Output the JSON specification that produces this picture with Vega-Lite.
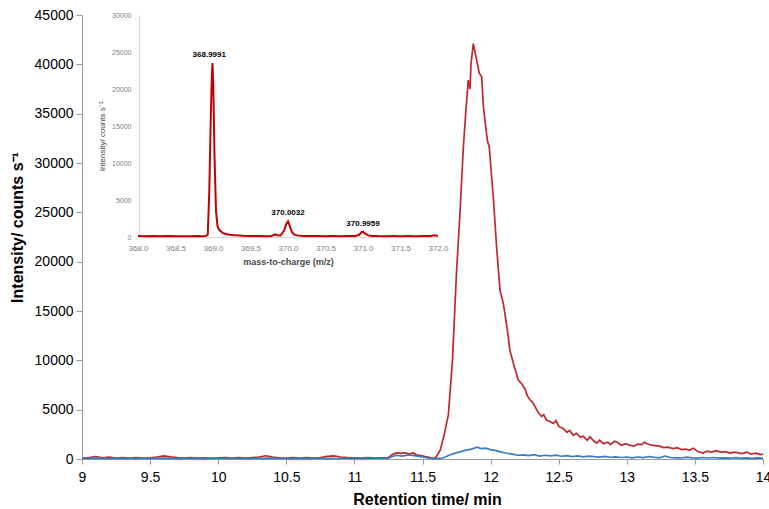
{
  "$schema": "https://vega.github.io/schema/vega-lite/v6.json",
  "width": 681,
  "height": 444,
  "autosize": {"type": "none"},
  "padding": {"left": 82, "top": 15, "right": 6, "bottom": 50},
  "background": "white",
  "config": {"view": {"stroke": null}, "font": "Liberation Sans"},
  "datasets": {
    "main": [
      {"t": 9.00, "I": 100, "series": "red"}, {"t": 9.05, "I": 150, "series": "red"}, {"t": 9.10, "I": 250, "series": "red"}, {"t": 9.15, "I": 120, "series": "red"}, {"t": 9.20, "I": 180, "series": "red"}, {"t": 9.25, "I": 100, "series": "red"}, {"t": 9.30, "I": 150, "series": "red"}, {"t": 9.35, "I": 90, "series": "red"}, {"t": 9.40, "I": 140, "series": "red"}, {"t": 9.45, "I": 100, "series": "red"}, {"t": 9.50, "I": 120, "series": "red"}, {"t": 9.55, "I": 200, "series": "red"}, {"t": 9.60, "I": 320, "series": "red"}, {"t": 9.65, "I": 220, "series": "red"}, {"t": 9.70, "I": 150, "series": "red"}, {"t": 9.75, "I": 100, "series": "red"}, {"t": 9.80, "I": 130, "series": "red"}, {"t": 9.85, "I": 90, "series": "red"}, {"t": 9.90, "I": 120, "series": "red"}, {"t": 9.95, "I": 100, "series": "red"},
      {"t": 10.00, "I": 110, "series": "red"}, {"t": 10.05, "I": 140, "series": "red"}, {"t": 10.10, "I": 90, "series": "red"}, {"t": 10.15, "I": 130, "series": "red"}, {"t": 10.20, "I": 100, "series": "red"}, {"t": 10.25, "I": 150, "series": "red"}, {"t": 10.30, "I": 200, "series": "red"}, {"t": 10.35, "I": 330, "series": "red"}, {"t": 10.40, "I": 200, "series": "red"}, {"t": 10.45, "I": 120, "series": "red"}, {"t": 10.50, "I": 100, "series": "red"}, {"t": 10.55, "I": 140, "series": "red"}, {"t": 10.60, "I": 90, "series": "red"}, {"t": 10.65, "I": 130, "series": "red"}, {"t": 10.70, "I": 100, "series": "red"}, {"t": 10.75, "I": 150, "series": "red"}, {"t": 10.80, "I": 260, "series": "red"}, {"t": 10.85, "I": 320, "series": "red"}, {"t": 10.90, "I": 200, "series": "red"}, {"t": 10.95, "I": 150, "series": "red"},
      {"t": 11.00, "I": 120, "series": "red"}, {"t": 11.05, "I": 100, "series": "red"}, {"t": 11.10, "I": 130, "series": "red"}, {"t": 11.15, "I": 90, "series": "red"}, {"t": 11.20, "I": 120, "series": "red"}, {"t": 11.25, "I": 150, "series": "red"}, {"t": 11.28, "I": 450, "series": "red"}, {"t": 11.31, "I": 620, "series": "red"}, {"t": 11.34, "I": 580, "series": "red"}, {"t": 11.37, "I": 640, "series": "red"}, {"t": 11.40, "I": 500, "series": "red"}, {"t": 11.43, "I": 620, "series": "red"}, {"t": 11.46, "I": 400, "series": "red"}, {"t": 11.49, "I": 350, "series": "red"}, {"t": 11.52, "I": 250, "series": "red"}, {"t": 11.55, "I": 170, "series": "red"}, {"t": 11.58, "I": 30, "series": "red"}, {"t": 11.60, "I": 200, "series": "red"}, {"t": 11.63, "I": 900, "series": "red"}, {"t": 11.66, "I": 2500, "series": "red"}, {"t": 11.69, "I": 4500, "series": "red"}, {"t": 11.72, "I": 10000, "series": "red"}, {"t": 11.75, "I": 19000, "series": "red"}, {"t": 11.775, "I": 24900, "series": "red"}, {"t": 11.80, "I": 31600, "series": "red"}, {"t": 11.817, "I": 35000, "series": "red"}, {"t": 11.836, "I": 38400, "series": "red"}, {"t": 11.849, "I": 37500, "series": "red"}, {"t": 11.856, "I": 40000, "series": "red"}, {"t": 11.873, "I": 42100, "series": "red"}, {"t": 11.898, "I": 40400, "series": "red"}, {"t": 11.917, "I": 39100, "series": "red"}, {"t": 11.935, "I": 38700, "series": "red"}, {"t": 11.947, "I": 35700, "series": "red"}, {"t": 11.976, "I": 32300, "series": "red"}, {"t": 11.99, "I": 31600, "series": "red"},
      {"t": 12.02, "I": 26500, "series": "red"}, {"t": 12.044, "I": 21500, "series": "red"}, {"t": 12.069, "I": 17100, "series": "red"}, {"t": 12.093, "I": 15800, "series": "red"}, {"t": 12.123, "I": 13100, "series": "red"}, {"t": 12.142, "I": 11000, "series": "red"}, {"t": 12.167, "I": 9700, "series": "red"}, {"t": 12.203, "I": 8000, "series": "red"}, {"t": 12.23, "I": 7600, "series": "red"}, {"t": 12.252, "I": 7100, "series": "red"}, {"t": 12.27, "I": 6400, "series": "red"}, {"t": 12.289, "I": 6000, "series": "red"}, {"t": 12.31, "I": 5700, "series": "red"}, {"t": 12.326, "I": 5300, "series": "red"}, {"t": 12.35, "I": 4700, "series": "red"}, {"t": 12.375, "I": 4300, "series": "red"}, {"t": 12.39, "I": 4500, "series": "red"}, {"t": 12.41, "I": 3950, "series": "red"}, {"t": 12.435, "I": 3800, "series": "red"}, {"t": 12.46, "I": 3600, "series": "red"}, {"t": 12.48, "I": 3900, "series": "red"}, {"t": 12.50, "I": 3300, "series": "red"}, {"t": 12.533, "I": 3100, "series": "red"}, {"t": 12.56, "I": 2700, "series": "red"}, {"t": 12.58, "I": 2900, "series": "red"}, {"t": 12.607, "I": 2400, "series": "red"}, {"t": 12.63, "I": 2600, "series": "red"}, {"t": 12.66, "I": 2200, "series": "red"}, {"t": 12.68, "I": 2300, "series": "red"}, {"t": 12.71, "I": 1900, "series": "red"}, {"t": 12.73, "I": 2250, "series": "red"}, {"t": 12.76, "I": 1800, "series": "red"}, {"t": 12.78, "I": 1600, "series": "red"}, {"t": 12.80, "I": 1900, "series": "red"}, {"t": 12.83, "I": 1550, "series": "red"}, {"t": 12.86, "I": 1700, "series": "red"}, {"t": 12.88, "I": 1450, "series": "red"}, {"t": 12.91, "I": 1800, "series": "red"}, {"t": 12.93, "I": 1700, "series": "red"}, {"t": 12.96, "I": 1400, "series": "red"}, {"t": 12.99, "I": 1550, "series": "red"},
      {"t": 13.02, "I": 1400, "series": "red"}, {"t": 13.05, "I": 1300, "series": "red"}, {"t": 13.08, "I": 1500, "series": "red"}, {"t": 13.11, "I": 1450, "series": "red"}, {"t": 13.13, "I": 1700, "series": "red"}, {"t": 13.15, "I": 1550, "series": "red"}, {"t": 13.18, "I": 1400, "series": "red"}, {"t": 13.21, "I": 1350, "series": "red"}, {"t": 13.24, "I": 1300, "series": "red"}, {"t": 13.27, "I": 1150, "series": "red"}, {"t": 13.30, "I": 1200, "series": "red"}, {"t": 13.34, "I": 1050, "series": "red"}, {"t": 13.37, "I": 1150, "series": "red"}, {"t": 13.40, "I": 950, "series": "red"}, {"t": 13.43, "I": 1000, "series": "red"}, {"t": 13.46, "I": 900, "series": "red"}, {"t": 13.49, "I": 1100, "series": "red"}, {"t": 13.52, "I": 750, "series": "red"}, {"t": 13.56, "I": 600, "series": "red"}, {"t": 13.59, "I": 800, "series": "red"}, {"t": 13.62, "I": 700, "series": "red"}, {"t": 13.66, "I": 850, "series": "red"}, {"t": 13.69, "I": 700, "series": "red"}, {"t": 13.72, "I": 750, "series": "red"}, {"t": 13.76, "I": 600, "series": "red"}, {"t": 13.79, "I": 700, "series": "red"}, {"t": 13.81, "I": 650, "series": "red"}, {"t": 13.85, "I": 550, "series": "red"}, {"t": 13.88, "I": 700, "series": "red"}, {"t": 13.91, "I": 500, "series": "red"}, {"t": 13.95, "I": 600, "series": "red"}, {"t": 13.98, "I": 450, "series": "red"}, {"t": 14.00, "I": 500, "series": "red"},
      {"t": 9.00, "I": 50, "series": "blue"}, {"t": 9.10, "I": 90, "series": "blue"}, {"t": 9.20, "I": 40, "series": "blue"}, {"t": 9.30, "I": 70, "series": "blue"}, {"t": 9.40, "I": 30, "series": "blue"}, {"t": 9.50, "I": 60, "series": "blue"}, {"t": 9.60, "I": 80, "series": "blue"}, {"t": 9.70, "I": 40, "series": "blue"}, {"t": 9.80, "I": 60, "series": "blue"}, {"t": 9.90, "I": 30, "series": "blue"},
      {"t": 10.00, "I": 50, "series": "blue"}, {"t": 10.10, "I": 70, "series": "blue"}, {"t": 10.20, "I": 40, "series": "blue"}, {"t": 10.30, "I": 60, "series": "blue"}, {"t": 10.40, "I": 80, "series": "blue"}, {"t": 10.50, "I": 40, "series": "blue"}, {"t": 10.60, "I": 60, "series": "blue"}, {"t": 10.70, "I": 30, "series": "blue"}, {"t": 10.80, "I": 70, "series": "blue"}, {"t": 10.90, "I": 50, "series": "blue"},
      {"t": 11.00, "I": 40, "series": "blue"}, {"t": 11.10, "I": 60, "series": "blue"}, {"t": 11.20, "I": 50, "series": "blue"}, {"t": 11.25, "I": 80, "series": "blue"}, {"t": 11.28, "I": 250, "series": "blue"}, {"t": 11.31, "I": 380, "series": "blue"}, {"t": 11.35, "I": 300, "series": "blue"}, {"t": 11.40, "I": 420, "series": "blue"}, {"t": 11.45, "I": 320, "series": "blue"}, {"t": 11.50, "I": 200, "series": "blue"}, {"t": 11.55, "I": 80, "series": "blue"}, {"t": 11.60, "I": 30, "series": "blue"}, {"t": 11.65, "I": 100, "series": "blue"}, {"t": 11.70, "I": 400, "series": "blue"}, {"t": 11.74, "I": 600, "series": "blue"}, {"t": 11.78, "I": 750, "series": "blue"}, {"t": 11.82, "I": 900, "series": "blue"}, {"t": 11.86, "I": 1000, "series": "blue"}, {"t": 11.90, "I": 1200, "series": "blue"}, {"t": 11.93, "I": 1050, "series": "blue"}, {"t": 11.96, "I": 1100, "series": "blue"},
      {"t": 12.00, "I": 950, "series": "blue"}, {"t": 12.04, "I": 850, "series": "blue"}, {"t": 12.08, "I": 700, "series": "blue"}, {"t": 12.12, "I": 580, "series": "blue"}, {"t": 12.16, "I": 500, "series": "blue"}, {"t": 12.20, "I": 380, "series": "blue"}, {"t": 12.24, "I": 420, "series": "blue"}, {"t": 12.28, "I": 350, "series": "blue"}, {"t": 12.32, "I": 450, "series": "blue"}, {"t": 12.36, "I": 300, "series": "blue"}, {"t": 12.40, "I": 380, "series": "blue"}, {"t": 12.44, "I": 320, "series": "blue"}, {"t": 12.48, "I": 400, "series": "blue"}, {"t": 12.52, "I": 280, "series": "blue"}, {"t": 12.56, "I": 350, "series": "blue"}, {"t": 12.60, "I": 250, "series": "blue"}, {"t": 12.64, "I": 320, "series": "blue"}, {"t": 12.68, "I": 220, "series": "blue"}, {"t": 12.72, "I": 300, "series": "blue"}, {"t": 12.76, "I": 240, "series": "blue"}, {"t": 12.80, "I": 200, "series": "blue"}, {"t": 12.84, "I": 260, "series": "blue"}, {"t": 12.88, "I": 180, "series": "blue"}, {"t": 12.92, "I": 220, "series": "blue"}, {"t": 12.96, "I": 150, "series": "blue"},
      {"t": 13.00, "I": 200, "series": "blue"}, {"t": 13.04, "I": 120, "series": "blue"}, {"t": 13.08, "I": 200, "series": "blue"}, {"t": 13.12, "I": 150, "series": "blue"}, {"t": 13.16, "I": 250, "series": "blue"}, {"t": 13.20, "I": 180, "series": "blue"}, {"t": 13.24, "I": 120, "series": "blue"}, {"t": 13.28, "I": 300, "series": "blue"}, {"t": 13.32, "I": 150, "series": "blue"}, {"t": 13.36, "I": 120, "series": "blue"}, {"t": 13.40, "I": 100, "series": "blue"}, {"t": 13.44, "I": 180, "series": "blue"}, {"t": 13.48, "I": 120, "series": "blue"}, {"t": 13.52, "I": 90, "series": "blue"}, {"t": 13.56, "I": 150, "series": "blue"}, {"t": 13.60, "I": 100, "series": "blue"}, {"t": 13.64, "I": 150, "series": "blue"}, {"t": 13.68, "I": 80, "series": "blue"}, {"t": 13.72, "I": 120, "series": "blue"}, {"t": 13.76, "I": 90, "series": "blue"}, {"t": 13.80, "I": 130, "series": "blue"}, {"t": 13.84, "I": 80, "series": "blue"}, {"t": 13.88, "I": 110, "series": "blue"}, {"t": 13.92, "I": 70, "series": "blue"}, {"t": 13.96, "I": 120, "series": "blue"}, {"t": 14.00, "I": 80, "series": "blue"}
    ],
    "inset": [
      {"mz": 368.00, "I": 120}, {"mz": 368.10, "I": 100}, {"mz": 368.20, "I": 130}, {"mz": 368.30, "I": 100}, {"mz": 368.40, "I": 120}, {"mz": 368.50, "I": 100}, {"mz": 368.60, "I": 110}, {"mz": 368.70, "I": 100}, {"mz": 368.80, "I": 130}, {"mz": 368.85, "I": 100}, {"mz": 368.90, "I": 120}, {"mz": 368.93, "I": 300}, {"mz": 368.95, "I": 6000}, {"mz": 368.97, "I": 16000}, {"mz": 368.985, "I": 22000}, {"mz": 368.993, "I": 23500}, {"mz": 369.005, "I": 20000}, {"mz": 369.02, "I": 11000}, {"mz": 369.04, "I": 3500}, {"mz": 369.06, "I": 1500}, {"mz": 369.08, "I": 1000}, {"mz": 369.10, "I": 800}, {"mz": 369.13, "I": 550}, {"mz": 369.17, "I": 400}, {"mz": 369.22, "I": 300}, {"mz": 369.30, "I": 220}, {"mz": 369.40, "I": 160}, {"mz": 369.50, "I": 130}, {"mz": 369.60, "I": 120}, {"mz": 369.70, "I": 110}, {"mz": 369.78, "I": 130}, {"mz": 369.83, "I": 350}, {"mz": 369.86, "I": 250}, {"mz": 369.90, "I": 200}, {"mz": 369.95, "I": 900}, {"mz": 369.975, "I": 1700}, {"mz": 370.00, "I": 2100}, {"mz": 370.02, "I": 1600}, {"mz": 370.05, "I": 700}, {"mz": 370.08, "I": 350}, {"mz": 370.12, "I": 220}, {"mz": 370.20, "I": 150}, {"mz": 370.30, "I": 130}, {"mz": 370.40, "I": 120}, {"mz": 370.50, "I": 110}, {"mz": 370.60, "I": 120}, {"mz": 370.70, "I": 110}, {"mz": 370.80, "I": 120}, {"mz": 370.90, "I": 150}, {"mz": 370.95, "I": 300}, {"mz": 370.98, "I": 650}, {"mz": 371.00, "I": 720}, {"mz": 371.03, "I": 450}, {"mz": 371.07, "I": 220}, {"mz": 371.12, "I": 150}, {"mz": 371.20, "I": 120}, {"mz": 371.30, "I": 110}, {"mz": 371.40, "I": 120}, {"mz": 371.50, "I": 110}, {"mz": 371.60, "I": 120}, {"mz": 371.70, "I": 110}, {"mz": 371.80, "I": 120}, {"mz": 371.90, "I": 150}, {"mz": 371.95, "I": 250}, {"mz": 372.00, "I": 150}
    ],
    "labels": [
      {"mz": 368.95, "I": 23500, "label": "368.9991"},
      {"mz": 370.0, "I": 2100, "label": "370.0032"},
      {"mz": 371.0, "I": 720, "label": "370.9959"}
    ]
  },
  "layer": [
    {
      "data": {"name": "main"},
      "mark": {"type": "line", "strokeWidth": 1.7},
      "encoding": {
        "x": {
          "field": "t", "type": "quantitative",
          "scale": {"domain": [9, 14], "nice": false, "zero": false},
          "axis": {
            "orient": "bottom", "values": [9, 9.5, 10, 10.5, 11, 11.5, 12, 12.5, 13, 13.5, 14],
            "format": "~g",
            "grid": false, "domainColor": "#9a9a9a", "tickColor": "#9a9a9a", "tickSize": 5,
            "labelFontSize": 14, "labelColor": "#000000", "labelPadding": 6, "labelFlush": false,
            "title": "Retention time/ min", "titleFontSize": 16, "titleFontWeight": "bold", "titleColor": "#000000", "titlePadding": 7, "titleX": 345
          }
        },
        "y": {
          "field": "I", "type": "quantitative",
          "scale": {"domain": [0, 45000], "nice": false},
          "axis": {
            "orient": "left", "values": [0, 5000, 10000, 15000, 20000, 25000, 30000, 35000, 40000, 45000],
            "grid": false, "domainColor": "#9a9a9a", "tickColor": "#9a9a9a", "tickSize": 6,
            "labelFontSize": 14, "labelColor": "#000000", "labelPadding": 3, "format": "d",
            "title": "Intensity/ counts s⁻¹", "titleFontSize": 16, "titleFontWeight": "bold", "titleColor": "#000000", "titlePadding": 9, "titleY": 212
          }
        },
        "color": {
          "field": "series", "type": "nominal",
          "scale": {"domain": ["red", "blue"], "range": ["#c1272d", "#3a7ec1"]},
          "legend": null
        }
      }
    },
    {
      "encoding": {
        "x": {
          "field": "mz", "type": "quantitative",
          "scale": {"domain": [368, 372], "range": [56, 356], "nice": false, "zero": false},
          "axis": {
            "orient": "bottom", "offset": -222, "values": [368, 368.5, 369, 369.5, 370, 370.5, 371, 371.5, 372],
            "format": ".1f", "grid": false, "domainColor": "#d8d8d8", "ticks": false,
            "labelFontSize": 8, "labelColor": "#808080", "labelPadding": 7, "labelFlush": false,
            "title": "mass-to-charge (m/z)", "titleFontSize": 9, "titleFontWeight": "bold", "titleColor": "#4a4a4a", "titlePadding": 5
          }
        },
        "y": {
          "field": "I", "type": "quantitative",
          "scale": {"domain": [0, 30000], "range": [222, 0], "nice": false},
          "axis": {
            "orient": "left", "offset": -57, "values": [0, 5000, 10000, 15000, 20000, 25000, 30000],
            "format": "d", "grid": false, "domainColor": "#d8d8d8", "ticks": false,
            "labelFontSize": 7, "labelColor": "#808080", "labelPadding": 8,
            "title": "Intensity/ counts s⁻¹", "titleFontSize": 8, "titleFontWeight": "normal", "titleColor": "#444444", "titlePadding": 5, "titleY": 121
          }
        }
      },
      "layer": [
        {
          "data": {"name": "inset"},
          "mark": {"type": "line", "color": "#c00000", "strokeWidth": 2}
        },
        {
          "data": {"name": "labels"},
          "mark": {"type": "text", "fontSize": 8, "fontWeight": "bold", "color": "#000000", "baseline": "bottom", "dy": -4},
          "encoding": {"text": {"field": "label", "type": "nominal"}}
        }
      ]
    }
  ],
  "resolve": {"scale": {"x": "independent", "y": "independent"}, "axis": {"x": "independent", "y": "independent"}}
}
